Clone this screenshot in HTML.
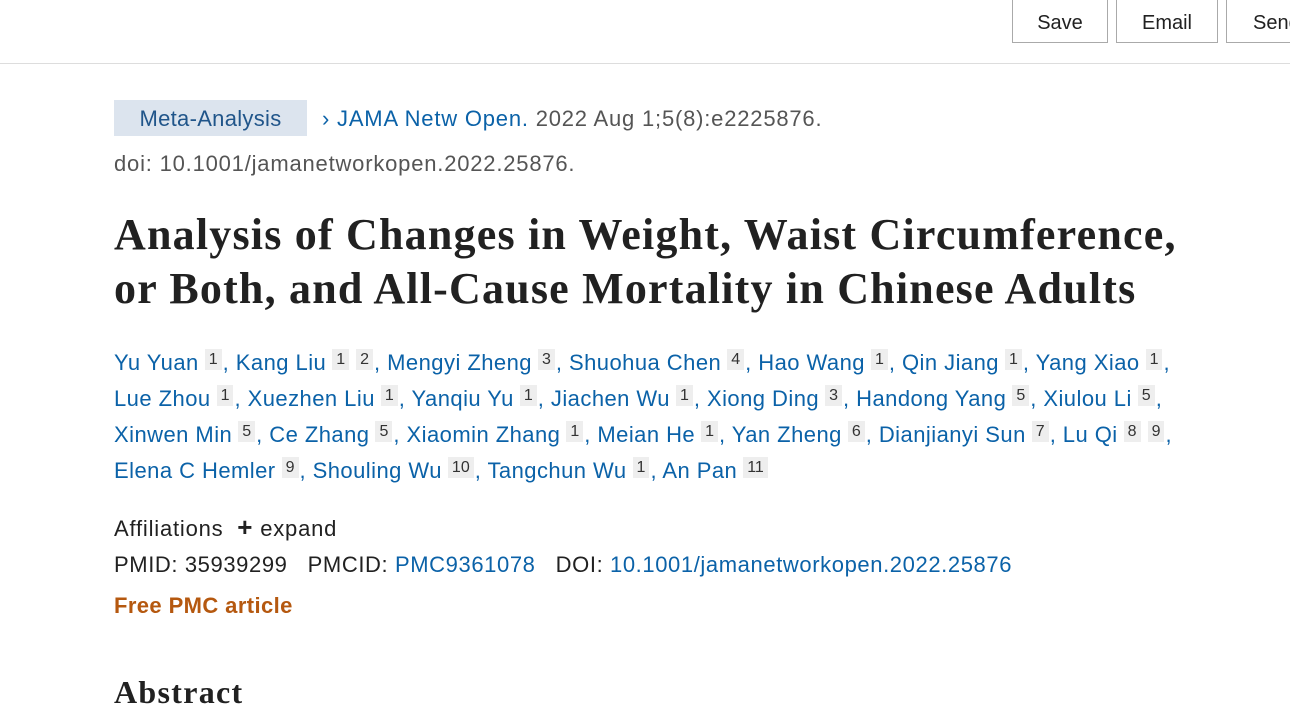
<!DOCTYPE html>
<html><head><meta charset="utf-8"><style>
body{margin:0;width:1290px;height:704px;overflow:hidden;background:#fff;font-family:"Liberation Sans",sans-serif;color:#212121;position:relative}
.a{position:absolute;white-space:nowrap;letter-spacing:0.8px}
.btn{position:absolute;top:0;height:43px;border:1px solid #aaa;border-top:none;font-size:20px;line-height:46px;text-align:center;color:#212121;box-sizing:border-box}
.blue{color:#0b62a8}
.s{display:inline-block;background:#eee;color:#333;font-size:16px;line-height:21px;padding:0 4px;vertical-align:6px;margin-left:6px;margin-right:1px;letter-spacing:0}
.au{font-size:22px;left:114px;letter-spacing:0.45px}
h1{position:absolute;left:114px;top:208px;margin:0;font-family:"Liberation Serif",serif;font-weight:bold;font-size:44px;line-height:54px;color:#212121;letter-spacing:1.2px}
</style></head><body>
<div class="btn" style="left:1012px;width:96px">Save</div>
<div class="btn" style="left:1116px;width:102px">Email</div>
<div class="btn" style="left:1226px;width:80px;text-align:left;padding-left:26px">Send</div>
<div class="a" style="left:0;top:63px;width:1290px;height:1px;background:#ddd"></div>
<div class="a" style="left:114px;top:100px;width:193px;height:36px;background:#dce4ee;color:#20558a;font-size:22px;line-height:38px;text-align:center;letter-spacing:0.3px">Meta-Analysis</div>
<div class="a" style="left:322px;top:106px;font-size:22px;color:#555"><span class="blue">&#x203A; JAMA Netw Open.</span> 2022 Aug 1;5(8):e2225876.</div>
<div class="a" style="left:114px;top:151px;font-size:22px;color:#555">doi: 10.1001/jamanetworkopen.2022.25876.</div>
<h1>Analysis of Changes in Weight, Waist Circumference,<br>or Both, and All-Cause Mortality in Chinese Adults</h1>
<div class="a au blue" style="top:349px">Yu Yuan<span class="s">1</span>, Kang Liu<span class="s">1</span><span class="s">2</span>, Mengyi Zheng<span class="s">3</span>, Shuohua Chen<span class="s">4</span>, Hao Wang<span class="s">1</span>, Qin Jiang<span class="s">1</span>, Yang Xiao<span class="s">1</span>,</div>
<div class="a au blue" style="top:385px">Lue Zhou<span class="s">1</span>, Xuezhen Liu<span class="s">1</span>, Yanqiu Yu<span class="s">1</span>, Jiachen Wu<span class="s">1</span>, Xiong Ding<span class="s">3</span>, Handong Yang<span class="s">5</span>, Xiulou Li<span class="s">5</span>,</div>
<div class="a au blue" style="top:421px">Xinwen Min<span class="s">5</span>, Ce Zhang<span class="s">5</span>, Xiaomin Zhang<span class="s">1</span>, Meian He<span class="s">1</span>, Yan Zheng<span class="s">6</span>, Dianjianyi Sun<span class="s">7</span>, Lu Qi<span class="s">8</span><span class="s">9</span>,</div>
<div class="a au blue" style="top:457px">Elena C Hemler<span class="s">9</span>, Shouling Wu<span class="s">10</span>, Tangchun Wu<span class="s">1</span>, An Pan<span class="s">11</span></div>
<div class="a" style="left:114px;top:512px;font-size:22px">Affiliations &nbsp;<b style="font-size:26px">+</b> expand</div>
<div class="a" style="left:114px;top:552px;font-size:22px;letter-spacing:0.6px">PMID: 35939299 &nbsp;&nbsp;PMCID: <span class="blue">PMC9361078</span> &nbsp;&nbsp;DOI: <span class="blue">10.1001/jamanetworkopen.2022.25876</span></div>
<div class="a" style="left:114px;top:593px;font-size:22px;color:#b5580f;font-weight:bold;letter-spacing:0.4px">Free PMC article</div>
<div class="a" style="left:114px;top:674px;font-size:32px;font-family:'Liberation Serif',serif;font-weight:bold;letter-spacing:1.3px">Abstract</div>
</body></html>
